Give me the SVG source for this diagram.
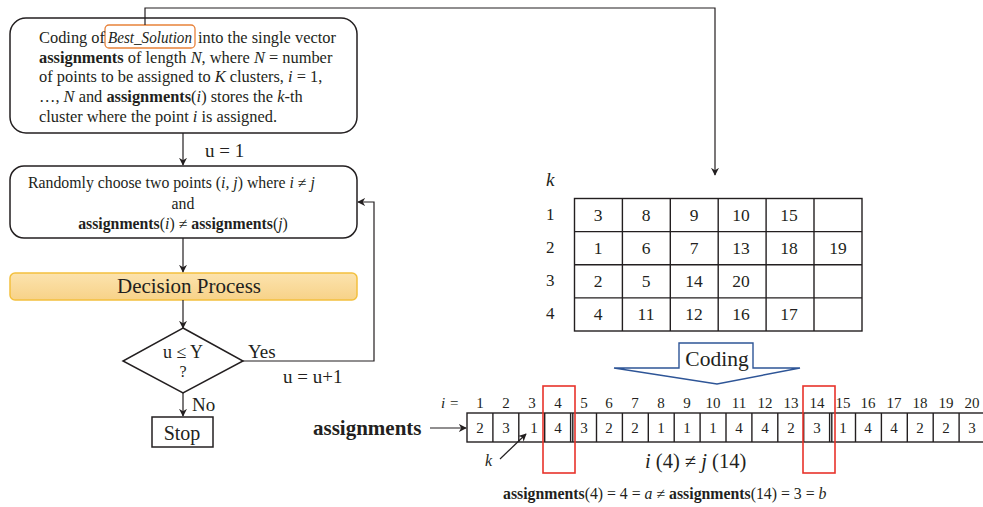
<svg xmlns="http://www.w3.org/2000/svg" width="983" height="507" viewBox="0 0 983 507" font-family="'Liberation Serif', 'Times New Roman', serif">
<style>
text{font-family:"Liberation Serif","Times New Roman",serif;fill:#231F20}
.t{font-size:16.4px}
.b{font-weight:bold}
.i{font-style:italic}
.ln{stroke:#231F20;stroke-width:1.2;fill:none}
.box{fill:#fff;stroke:#231F20;stroke-width:1.5}
.cell{fill:#fff;stroke:#231F20;stroke-width:1.4}
.mid{text-anchor:middle}
.red{fill:none;stroke:#E8332B;stroke-width:1.6}
</style>
<defs>
<marker id="ah" viewBox="0 0 10 10" refX="9" refY="5" markerWidth="8" markerHeight="8" markerUnits="userSpaceOnUse" orient="auto">
<path d="M0,0 L10,5 L0,10 L3,5 z" fill="#231F20"/>
</marker>
<linearGradient id="gold" x1="0" y1="0" x2="0" y2="1">
<stop offset="0" stop-color="#FCE3AE"/>
<stop offset="1" stop-color="#F7D288"/>
</linearGradient>
</defs>

<g id="coding-box">
<rect class="box" x="10" y="18" width="347" height="115" rx="16"/>
<rect x="105" y="25" width="90" height="23" rx="4" fill="none" stroke="#E8823A" stroke-width="1.3"/>
<text class="t" x="39" y="43">Coding of</text>
<text class="t i" x="108" y="43" textLength="84" lengthAdjust="spacingAndGlyphs">Best_Solution</text>
<text class="t" x="198" y="43">into the single vector</text>
<text class="t" x="39" y="63"><tspan class="b">assignments</tspan> of length <tspan class="i">N</tspan>, where <tspan class="i">N</tspan> = number</text>
<text class="t" x="39" y="82">of points to be assigned to <tspan class="i">K</tspan> clusters, <tspan class="i">i</tspan> = 1,</text>
<text class="t" x="39" y="102">…, <tspan class="i">N</tspan> and <tspan class="b">assignments</tspan>(<tspan class="i">i</tspan>) stores the <tspan class="i">k</tspan>-th</text>
<text class="t" x="39" y="122">cluster where the point <tspan class="i">i</tspan> is assigned.</text>
</g>

<g id="choose-box">
<rect class="box" x="10" y="166" width="347" height="72" rx="14"/>
<text x="28" y="188" style="font-size:15.8px">Randomly choose two points (<tspan class="i">i, j</tspan>) where <tspan class="i">i</tspan> ≠ <tspan class="i">j</tspan></text>
<text class="mid" x="183" y="209" style="font-size:15.8px">and</text>
<text class="mid" x="183" y="229" style="font-size:15.8px"><tspan class="b">assignments</tspan>(<tspan class="i">i</tspan>) ≠ <tspan class="b">assignments</tspan>(<tspan class="i">j</tspan>)</text>
</g>

<g id="decision-process">
<rect x="10" y="273" width="347" height="27" rx="5" fill="url(#gold)" stroke="#F3C03E" stroke-width="1.5"/>
<text class="mid" x="189" y="293" style="font-size:21px">Decision Process</text>
</g>

<g id="decision">
<polygon class="box" points="183,328 243,361 183,393 123,361"/>
<text class="mid" x="183" y="358" style="font-size:18px">u ≤ Y</text>
<text class="mid" x="183" y="377" style="font-size:16px">?</text>
</g>

<g id="stop">
<rect class="box" x="152" y="417" width="61" height="30"/>
<text class="mid" x="182" y="440" style="font-size:20px">Stop</text>
</g>

<g id="cluster-table">
<text class="i" x="546" y="186" style="font-size:19px">k</text>
<text x="546" y="220" style="font-size:17px">1</text>
<text x="546" y="253" style="font-size:17px">2</text>
<text x="546" y="286" style="font-size:17px">3</text>
<text x="546" y="319" style="font-size:17px">4</text>
<g class="cell">
<rect x="574.5" y="198.5" width="287.5" height="132.5"/>
<line x1="574.5" y1="231.6" x2="862" y2="231.6"/>
<line x1="574.5" y1="264.8" x2="862" y2="264.8"/>
<line x1="574.5" y1="297.9" x2="862" y2="297.9"/>
<line x1="622.4" y1="198.5" x2="622.4" y2="331"/>
<line x1="670.3" y1="198.5" x2="670.3" y2="331"/>
<line x1="718.2" y1="198.5" x2="718.2" y2="331"/>
<line x1="766.1" y1="198.5" x2="766.1" y2="331"/>
<line x1="814" y1="198.5" x2="814" y2="331"/>
</g>
<g style="font-size:17.5px">
<text class="mid" x="598" y="221">3</text><text class="mid" x="646" y="221">8</text><text class="mid" x="694" y="221">9</text><text class="mid" x="741" y="221">10</text><text class="mid" x="789" y="221">15</text>
<text class="mid" x="598" y="254">1</text><text class="mid" x="646" y="254">6</text><text class="mid" x="694" y="254">7</text><text class="mid" x="741" y="254">13</text><text class="mid" x="789" y="254">18</text><text class="mid" x="838" y="254">19</text>
<text class="mid" x="598" y="287">2</text><text class="mid" x="646" y="287">5</text><text class="mid" x="694" y="287">14</text><text class="mid" x="741" y="287">20</text>
<text class="mid" x="598" y="320">4</text><text class="mid" x="646" y="320">11</text><text class="mid" x="694" y="320">12</text><text class="mid" x="741" y="320">16</text><text class="mid" x="789" y="320">17</text>
</g>
</g>

<g id="coding-arrow">
<polygon points="679,343 753,343 753,368 800,368 717,384 614,368 679,368" fill="#fff" stroke="#2E5597" stroke-width="1.4"/>
<text class="mid" x="717" y="366" style="font-size:21.5px">Coding</text>
</g>

<g id="assignments-vector">
<text class="b" x="313" y="435" style="font-size:21px">assignments</text>
<text class="i" x="441" y="408" style="font-size:15px">i</text>
<text x="450" y="408" style="font-size:15px">=</text>
<g class="cell">
<rect x="467" y="413" width="520" height="29"/>
<line x1="492.9" y1="413" x2="492.9" y2="442"/><line x1="518.8" y1="413" x2="518.8" y2="442"/><line x1="544.7" y1="413" x2="544.7" y2="442"/><line x1="570.6" y1="413" x2="570.6" y2="442"/><line x1="572.8" y1="413" x2="572.8" y2="442"/><line x1="596.5" y1="413" x2="596.5" y2="442"/><line x1="622.4" y1="413" x2="622.4" y2="442"/><line x1="648.3" y1="413" x2="648.3" y2="442"/><line x1="674.2" y1="413" x2="674.2" y2="442"/><line x1="700.1" y1="413" x2="700.1" y2="442"/><line x1="726" y1="413" x2="726" y2="442"/><line x1="751.9" y1="413" x2="751.9" y2="442"/><line x1="777.8" y1="413" x2="777.8" y2="442"/><line x1="803.7" y1="413" x2="803.7" y2="442"/><line x1="829.6" y1="413" x2="829.6" y2="442"/><line x1="831.8" y1="413" x2="831.8" y2="442"/><line x1="855.5" y1="413" x2="855.5" y2="442"/><line x1="881.4" y1="413" x2="881.4" y2="442"/><line x1="907.3" y1="413" x2="907.3" y2="442"/><line x1="933.2" y1="413" x2="933.2" y2="442"/><line x1="959.1" y1="413" x2="959.1" y2="442"/>
</g>
<g style="font-size:15px">
<text class="mid" x="480" y="408">1</text><text class="mid" x="506" y="408">2</text><text class="mid" x="532" y="408">3</text><text class="mid" x="558" y="408">4</text><text class="mid" x="584" y="408">5</text><text class="mid" x="609" y="408">6</text><text class="mid" x="635" y="408">7</text><text class="mid" x="661" y="408">8</text><text class="mid" x="687" y="408">9</text><text class="mid" x="713" y="408">10</text><text class="mid" x="739" y="408">11</text><text class="mid" x="765" y="408">12</text><text class="mid" x="791" y="408">13</text><text class="mid" x="817" y="408">14</text><text class="mid" x="843" y="408">15</text><text class="mid" x="868" y="408">16</text><text class="mid" x="894" y="408">17</text><text class="mid" x="920" y="408">18</text><text class="mid" x="946" y="408">19</text><text class="mid" x="972" y="408">20</text>
<text class="mid" x="480" y="433">2</text><text class="mid" x="506" y="433">3</text><text class="mid" x="534" y="433">1</text><text class="mid" x="558" y="433">4</text><text class="mid" x="584" y="433">3</text><text class="mid" x="609" y="433">2</text><text class="mid" x="635" y="433">2</text><text class="mid" x="661" y="433">1</text><text class="mid" x="687" y="433">1</text><text class="mid" x="713" y="433">1</text><text class="mid" x="739" y="433">4</text><text class="mid" x="765" y="433">4</text><text class="mid" x="791" y="433">2</text><text class="mid" x="817" y="433">3</text><text class="mid" x="843" y="433">1</text><text class="mid" x="868" y="433">4</text><text class="mid" x="894" y="433">4</text><text class="mid" x="920" y="433">2</text><text class="mid" x="946" y="433">2</text><text class="mid" x="972" y="433">3</text>
</g>
<rect class="red" x="543" y="386" width="32" height="87"/>
<rect class="red" x="803" y="386" width="32" height="87"/>
<text class="i" x="485" y="466" style="font-size:16px">k</text>
<text x="645" y="468" style="font-size:20.5px"><tspan class="i">i</tspan> (4) ≠ <tspan class="i">j</tspan> (14)</text>
<text x="503" y="499" style="font-size:15.8px"><tspan class="b">assignments</tspan>(4) = 4 = <tspan class="i">a</tspan> ≠ <tspan class="b">assignments</tspan>(14) = 3 = <tspan class="i">b</tspan></text>
</g>

<g id="connectors">
<polyline class="ln" points="145,25 145,8 715,8 715,175" stroke="#555" marker-end="url(#ah)"/>
<line class="ln" x1="183" y1="133" x2="183" y2="165" marker-end="url(#ah)"/>
<line class="ln" x1="183" y1="238" x2="183" y2="272" marker-end="url(#ah)"/>
<line class="ln" x1="183" y1="300" x2="183" y2="328" marker-end="url(#ah)"/>
<polyline class="ln" points="243,361 374,361 374,202 358,202" marker-end="url(#ah)"/>
<line class="ln" x1="183" y1="393" x2="183" y2="416" marker-end="url(#ah)"/>
<line class="ln" x1="430" y1="428" x2="466" y2="428" marker-end="url(#ah)"/>
<line class="ln" x1="500" y1="459" x2="526" y2="434" marker-end="url(#ah)"/>
<text x="205" y="157" style="font-size:19px">u = 1</text>
<text x="248" y="358" style="font-size:19px">Yes</text>
<text x="283" y="383" style="font-size:19px">u = u+1</text>
<text x="192" y="411" style="font-size:19px">No</text>
</g>
</svg>
